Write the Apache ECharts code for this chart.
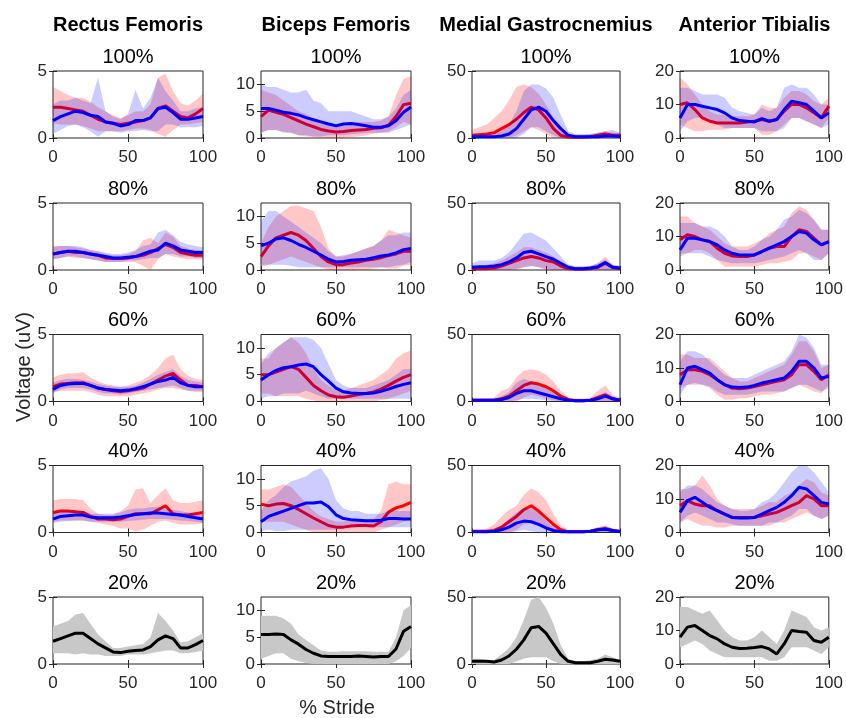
<!DOCTYPE html>
<html>
<head>
<meta charset="utf-8">
<script src="https://cdn.jsdelivr.net/npm/echarts@6/dist/echarts.min.js"></script>
<style>html,body{margin:0;padding:0;background:#fff;}#c{width:846px;height:718px;}</style>
</head>
<body>
<div id="c"></div>
<script>
// ---- axes / labels ----
const xs = [0,5,10,15,20,25,30,35,40,45,50,55,60,65,70,75,80,85,90,95,100];
const colTitles = ['Rectus Femoris','Biceps Femoris','Medial Gastrocnemius','Anterior Tibialis'];
const rowTitles = ['100%','80%','60%','40%','20%'];
const yMaxes = [5,12.5,50,20];
const yTickVals = [[0,5],[0,5,10],[0,50],[0,10,20]];
const xTickVals = [0,50,100];

// ---- 100% ----
const rf100RedM  = [2.3,2.3,2.2,2.1,2.0,1.7,1.4,1.2,1.1,1.0,1.1,1.2,1.3,1.5,2.2,2.4,2.0,1.6,1.5,1.8,2.2];
const rf100RedHi = [3.8,3.5,3.2,3.0,3.0,2.7,2.3,2.0,1.7,1.5,1.7,2.0,2.0,2.5,4.5,4.8,3.5,2.6,2.4,2.8,3.3];
const rf100RedLo = [1.1,1.0,1.0,1.0,0.9,0.7,0.5,0.5,0.5,0.5,0.6,0.7,0.7,0.6,0.3,0.1,0.6,1.0,1.0,1.1,1.2];
const rf100BluM  = [1.3,1.6,1.8,2.0,1.9,1.7,1.6,1.2,1.1,0.9,1.0,1.3,1.3,1.5,2.2,2.3,1.9,1.4,1.4,1.5,1.6];
const rf100BluHi = [2.5,2.8,2.8,3.0,2.8,2.6,4.5,2.0,1.6,1.4,1.8,3.6,2.2,3.0,4.5,3.5,2.8,2.0,2.0,2.2,2.3];
const rf100BluLo = [0.3,0.6,0.9,1.0,0.8,0.5,0.1,0.5,0.5,0.4,0.5,0.5,0.6,0.5,0.5,1.0,1.0,0.8,0.8,0.8,0.9];

const bf100RedM  = [4.0,5.2,4.8,4.4,3.8,3.2,2.6,2.1,1.6,1.3,1.1,1.2,1.4,1.5,1.6,1.8,1.9,2.4,4.0,6.2,6.5];
const bf100RedHi = [9,8.5,8,7,6,5,4.5,3.5,3,2.5,2.3,2.5,2.8,3,3,3,3.2,4,8,11,11.5];
const bf100RedLo = [1,1.5,1.5,1.2,1,0.5,0.3,0.2,0.1,0,0,0,0.2,0.3,0.5,0.8,1,1.2,2,3,2.5];
const bf100BluM  = [5.5,5.5,5.2,4.8,4.6,4.3,3.8,3.4,3.0,2.6,2.3,2.6,2.7,2.5,2.3,2.0,2.0,2.3,3.2,4.8,5.8];
const bf100BluHi = [10,9.5,9.5,9,8.5,8.5,9,7,6.5,5,5,5,5,4.5,4,3.5,3.5,4,5.5,8,9];
const bf100BluLo = [1,1.5,1.5,1,1,0.5,0.5,0.3,0.3,0.5,0.5,0.5,0.7,0.8,1,1,1,1,1.5,2,2.5];

const mg100RedM  = [2,2.5,3,4,7,10,14,19,23,21,15,7,2,0.5,0.5,0.5,1,2,3,2,2];
const mg100RedHi = [6,8,10,15,20,28,38,40,38,33,25,15,5,2,2,2,3,4,5,4,4];
const mg100RedLo = [0,0,0,0,0,0,2,5,8,6,3,0,0,0,0,0,0,0,0,0,0];
const mg100BluM  = [1,1,1,1,1.5,3,7,14,21,23,20,13,7,2,1,1,1,1,1.5,1.5,1];
const mg100BluHi = [3,3,3,3,5,10,20,35,40,40,37,30,17,5,3,3,3,4,5,6,4];
const mg100BluLo = [0,0,0,0,0,0,0,3,8,8,5,2,0,0,0,0,0,0,0,0,0];

const ta100RedM  = [10,10.5,8.5,6,5,4.5,4.5,4.5,4.5,4.8,5,5.5,5,5.5,8,10,10,9,7.5,6,9.5];
const ta100RedHi = [18,16,13,10,8,7,7,6.5,6.5,6.5,7,10,9,9,12,14,14,13,11,10,12];
const ta100RedLo = [4,3,2,2,2.5,2.5,2.5,3,3,3,3,1,1,2,4,6,6,5,4,3,6];
const ta100BluM  = [6,10,10,9.5,9,8.5,7.5,6,5.2,5,4.8,5.8,5,5.5,8.5,11,10.5,10,8,6,7.5];
const ta100BluHi = [15,15,14,13,13,13,12,9,8,7.5,7,9,8,9,15,16,15,15,13,10,10];
const ta100BluLo = [2,5,6,6,5,4,3,3,3,3,3,2,2,2,3,6,6,5,4,3,4];

// ---- 80% ----
const rf80RedM  = [1.2,1.3,1.4,1.3,1.3,1.2,1.1,0.9,0.85,0.85,0.9,1.0,1.1,1.3,1.6,1.9,1.7,1.3,1.2,1.1,1.1];
const rf80RedHi = [1.8,1.8,1.8,1.7,1.6,1.5,1.4,1.2,1.1,1.1,1.2,1.4,2.2,2.4,2.0,2.8,2.5,1.8,1.6,1.5,1.5];
const rf80RedLo = [0.8,0.9,1.0,0.9,0.9,0.8,0.7,0.6,0.6,0.6,0.6,0.6,0.3,0.0,0.8,1.2,1.0,0.9,0.8,0.8,0.8];
const rf80BluM  = [1.2,1.3,1.4,1.4,1.3,1.2,1.1,1.0,0.9,0.9,0.95,1.0,1.2,1.4,1.5,2.0,1.8,1.5,1.4,1.3,1.3];
const rf80BluHi = [1.7,1.8,1.8,1.8,1.7,1.5,1.4,1.3,1.2,1.2,1.3,1.5,1.8,1.9,2.8,3.0,2.6,2.1,1.9,1.8,1.7];
const rf80BluLo = [0.8,0.9,1.0,1.0,0.9,0.8,0.7,0.6,0.6,0.6,0.7,0.7,0.8,0.9,0.9,1.2,1.2,1.0,1.0,0.9,0.9];

const bf80RedM  = [2.5,4.5,6,6.5,7,6.5,5.5,4,2.5,1.5,1.0,1.0,1.3,1.5,1.8,2.0,2.3,2.7,3.0,3.5,3.5];
const bf80RedHi = [5,8,10,11,12,12,11.5,11,8,4,2.5,2.5,3,3.5,4,4.5,5.5,7.5,7,6.5,6];
const bf80RedLo = [0.5,1,1.5,2,2.5,2,1.5,1,0.5,0,0,0,0,0,0,0.3,0.5,0.3,0.3,0.8,1];
const bf80BluM  = [4.5,5.0,5.8,6.0,5.5,4.8,4.2,3.5,2.8,2.0,1.5,1.6,1.8,1.9,2.0,2.3,2.6,2.8,3.2,3.8,4.0];
const bf80BluHi = [9,11,11,10,9,8,7,6,5,3.5,2.5,2.8,3,3.5,4,4.5,5.5,6.5,6.5,7,7];
const bf80BluLo = [1,1,1,1,0.8,0.5,0.5,0.5,0.5,0.5,0.5,0.5,0.5,0.5,0.5,0.5,0.5,0.5,0.8,1,1.5];

const mg80RedM  = [1,1,1,1.5,3,5,7,9,10,9,7,6,3,1,0.5,0.5,1,2,5,2,1];
const mg80RedHi = [3,3,4,5,7,10,13,17,17,15,13,10,6,3,2,2,3,5,10,4,3];
const mg80RedLo = [0,0,0,0,0,0,0,2,3,2,0,0,0,0,0,0,0,0,0,0,0];
const mg80BluM  = [2,2.5,2.5,3,4,6,9,13,14,12,10,8,5,2,1,1,1.5,2.5,5.5,2,1.5];
const mg80BluHi = [5,7,7,7,9,13,20,27,28,25,22,16,10,4,3,3,3,5,8,4,3];
const mg80BluLo = [0,0,0,0,0,0,1,2,3,2,1,0,0,0,0,0,0,0,0,0,0];

const ta80RedM  = [9,10.5,10,9,8.5,6.5,5,4.2,4,4,4.5,5.5,6.5,7,7,10,12,11.5,9.5,7.5,8.5];
const ta80RedHi = [16,16,14,13,12,10,8,7,7,7,8,9,11,12,13,17,19,18,15,12,12];
const ta80RedLo = [5,5,6,6,5,3,1,1,1,1,1,1.5,2,2,2.5,3,5,5,4,3,5];
const ta80BluM  = [6,9.5,9.5,9,8.5,7.5,6,5,4.5,4.5,4.5,5.5,6.5,7.5,8.5,10,11.5,11,9,7.5,8.5];
const ta80BluHi = [14,14,14,13,13,12,10,7,6,6,7,9,10,12,15,16,18,17,15,12,12];
const ta80BluLo = [4,5,5,5,4,3,2.5,2,2,2,2,2.5,3,3.5,4,5,6,5,3,3,5];

// ---- 60% ----
const rf60RedM  = [1.1,1.3,1.35,1.4,1.4,1.2,1.0,0.9,0.8,0.75,0.8,0.9,1.0,1.3,1.6,1.9,2.1,1.6,1.2,1.2,1.1];
const rf60RedHi = [1.8,2.0,2.1,2.1,2.2,1.8,1.5,1.3,1.2,1.1,1.2,1.4,1.6,2.0,2.5,3.2,3.5,2.4,1.9,1.7,1.6];
const rf60RedLo = [0.7,0.8,0.8,0.8,0.8,0.7,0.5,0.4,0.4,0.4,0.4,0.5,0.6,0.7,0.9,1.0,1.0,0.9,0.8,0.7,0.7];
const rf60BluM  = [0.9,1.2,1.3,1.35,1.35,1.2,1.0,0.9,0.85,0.8,0.85,0.95,1.1,1.3,1.5,1.6,1.8,1.4,1.2,1.1,1.1];
const rf60BluHi = [1.4,1.6,1.7,1.7,1.6,1.5,1.3,1.2,1.1,1.1,1.1,1.2,1.4,1.7,2.0,2.2,2.4,1.9,1.6,1.5,1.4];
const rf60BluLo = [0.6,0.9,1.0,1.0,1.0,0.9,0.7,0.6,0.6,0.5,0.6,0.7,0.8,0.9,1.0,1.1,1.2,1.0,0.8,0.8,0.8];

const bf60RedM  = [5,5,5.5,6,6.5,6,4.5,3,2,1.2,0.9,0.8,1.0,1.3,1.5,1.8,2.3,3,3.8,4.5,5];
const bf60RedHi = [8,8,10,11,12,11,9,6,4,3,2,2,2.5,3,3.5,4,5,6,8,9,9.5];
const bf60RedLo = [1.5,1.5,1,1,1,1,0.5,0.2,0,0,0,0,0,0,0,0,0.3,0.5,1,1.5,2];
const bf60BluM  = [4,5,5.8,6.3,6.5,6.8,7,6.5,5,3.8,2.5,1.8,1.6,1.5,1.5,1.6,1.9,2.3,2.8,3.2,3.5];
const bf60BluHi = [7,9,10,11,12,12,12,11.5,10,7,4,3,2.5,2.5,2.5,3,3.5,4,5,6,6];
const bf60BluLo = [0.5,1,1,1.5,1.5,1.5,2,1.5,1,0.5,0.5,0.5,0.5,0.5,0.5,0.5,0.5,0.5,0.5,0.5,0.5];

const mg60RedM  = [1,1,1,1,2,4,8,12,14,13,11,8,4,1.5,0.5,0.5,1,3,5,2,1];
const mg60RedHi = [2,2,2,3,8,10,18,23,24,23,20,15,8,3,2,2,3,8,12,5,3];
const mg60RedLo = [0,0,0,0,0,0,0,3,5,4,2,1,0,0,0,0,0,0,0,0,0];
const mg60BluM  = [1,1,1,1,1.5,3,6,8,8,6.5,5,3.5,2,1,0.5,0.5,1,2,4,2,1];
const mg60BluHi = [2,2,2,2,4,7,14,17,15,12,10,7,4,2,2,2,2,4,7,4,2];
const mg60BluLo = [0,0,0,0,0,0,1,2,2,1.5,1,0,0,0,0,0,0,0,0,0,0];

const ta60RedM  = [8,9.5,9.5,9,8,6.5,5,4,3.8,4,4.5,5,5.5,6,6.5,8,11,11,9,6.5,8];
const ta60RedHi = [14,14,13,13,13,11,9,7,6,6,7,8,9,10,11,14,18,18,15,10,11];
const ta60RedLo = [4,5,5,5,4,2,0.5,0.5,1,1,1.5,2,2,2.5,3,4,5,4,3,2.5,5];
const ta60BluM  = [5,10,10.5,9.5,8.5,6.5,5,4.3,4.2,4.3,4.8,5.5,6,6.5,7,9,12,12,10,7,7.5];
const ta60BluHi = [12,15,15,14,12,10,8,7,7,7,8,9,10,11,12,15,20,19,16,11,11];
const ta60BluLo = [2,5,5.5,5,4.5,3,2,2,2,2,2.5,3,3,3,3,4,5,5,4,3,4];

// ---- 40% ----
const rf40RedM  = [1.5,1.6,1.6,1.55,1.5,1.2,1.0,1.0,0.95,1.0,1.2,1.4,1.4,1.4,1.7,2.0,1.4,1.3,1.3,1.4,1.5];
const rf40RedHi = [2.4,2.5,2.5,2.5,2.4,1.8,1.4,1.3,1.3,1.6,2.0,3.2,3.3,2.2,2.8,3.3,2.4,2.2,2.2,2.3,2.4];
const rf40RedLo = [0.8,0.9,0.9,0.9,0.9,0.8,0.7,0.6,0.5,0.3,0.3,0.1,0.2,0.5,0.8,0.9,0.7,0.6,0.6,0.6,0.7];
const rf40BluM  = [1.0,1.2,1.25,1.3,1.3,1.15,1.1,1.1,1.1,1.15,1.25,1.35,1.4,1.45,1.45,1.4,1.35,1.3,1.2,1.1,1.0];
const rf40BluHi = [1.5,1.6,1.6,1.6,1.6,1.4,1.4,1.4,1.4,1.5,1.7,1.8,1.8,1.9,1.9,1.8,1.7,1.6,1.5,1.4,1.3];
const rf40BluLo = [0.7,0.8,0.85,0.9,0.9,0.8,0.8,0.8,0.8,0.8,0.85,0.9,0.95,1.0,1.0,1.0,0.95,0.9,0.85,0.8,0.7];

const bf40RedM  = [5.3,5.0,5.3,5.4,5.0,4.3,3.5,2.7,2.0,1.3,1.0,1.0,1.2,1.3,1.3,1.2,2.0,3.8,4.6,5.0,5.6];
const bf40RedHi = [8,8,8.5,9,8.5,7,5.5,4,3,2.5,2,2,2.5,2.5,2.5,2.5,4,9,9.5,9,9];
const bf40RedLo = [2,2,2,2,1.5,1,0.5,0,0,0,0,0,0,0,0,0,0.5,1,1.5,2,2.5];
const bf40BluM  = [2,3,3.5,4,4.5,5,5.5,5.5,5.7,4.8,3.3,2.6,2.4,2.3,2.2,2.2,2.3,2.6,2.6,2.5,2.5];
const bf40BluHi = [4,6,7,8.5,9.5,10,10.5,11.5,12,10,6,4.5,4,4,3.5,3.5,3.5,4,4,4,4];
const bf40BluLo = [0.3,0.5,0.3,0.3,0.5,0.5,0.5,0.5,0.5,0.5,0.5,0.8,1,1,1,1,1,1,1,1,1];

const mg40RedM  = [1,1,1,1.5,4,8,12,17,20,16,11,6,2,0.5,0.5,0.5,1,2,3,1.5,1];
const mg40RedHi = [2,2,3,6,12,17,20,28,33,30,24,14,5,2,2,2,2,4,5,3,2];
const mg40RedLo = [0,0,0,0,0,0,2,6,8,5,2,0,0,0,0,0,0,0,0,0,0];
const mg40BluM  = [0.5,0.5,0.5,1,2,4,7,8.5,8,6,3.5,1.5,0.5,0.5,0.5,0.5,1,2,2.5,1.5,0.5];
const mg40BluHi = [1,1,1,2,5,10,15,18,18,15,9,4,1.5,1,1,1,2,4,5,3,1];
const mg40BluLo = [0,0,0,0,0,0,1,2,1,0,0,0,0,0,0,0,0,0,0,0,0];

const ta40RedM  = [8,9.5,8.5,8,8,6.5,5.5,4.5,4.5,4.5,4.5,5,5.5,6,7,8,9,11,10,8,8];
const ta40RedHi = [13,13,14,17,14,10,8,7,7,7,7,8,9,9,11,12,14,16,15,12,11];
const ta40RedLo = [3,4,3,2,2,1.5,1.5,2,2,2,2,2,2,3,3,4,5,6,5,4,5];
const ta40BluM  = [6,9.5,10.5,9,7.5,6.5,5.5,4.5,4.3,4.3,4.5,5.5,6.5,7.5,9,11,13.5,13,11,9,8.5];
const ta40BluHi = [12,14,14,13,11,9,8,7,6.5,6.5,7,9,10,12,15,18,20,20,18,15,12];
const ta40BluLo = [3,5,6,5,4,3,3,2.5,2,2,2,2,3,3,4,5,7,7,5,4,5];

// ---- 20% ----
const rf20M  = [1.7,1.9,2.1,2.3,2.3,1.9,1.5,1.2,0.9,0.85,0.95,1.0,1.05,1.3,1.8,2.1,1.9,1.2,1.2,1.45,1.75];
const rf20Hi = [2.8,3.0,3.2,3.7,3.8,3.0,2.2,1.7,1.2,1.2,1.3,1.4,1.5,2.0,3.8,3.2,2.5,1.6,1.7,2.0,2.3];
const rf20Lo = [0.8,0.8,0.8,0.7,0.8,0.7,0.7,0.6,0.6,0.6,0.7,0.7,0.7,0.8,0.9,1.0,1.0,0.8,0.8,0.9,1.0];

const bf20M  = [5.5,5.5,5.6,5.5,4.5,3.7,2.7,2.0,1.5,1.4,1.4,1.4,1.4,1.5,1.4,1.3,1.4,1.4,2.8,6.1,7.0];
const bf20Hi = [9,9,9,8.5,7.5,5.5,4.5,3.5,2.5,2.3,2.3,2.4,2.4,2.4,2.4,2.3,2.3,2.3,5,10,11];
const bf20Lo = [1,1.5,2,2,1,0.5,0.2,0,0,0,0,0,0,0,0,0,0,0,0.5,1.5,3];

const mg20M  = [2,2,2,1.5,3,6,11,18,27,28,23,15,7,2,1,1,1,2,3.5,3,2];
const mg20Hi = [4,4,3,3,7,12,20,33,48,50,42,30,14,4,2,2,3,4,7,5,3];
const mg20Lo = [0,0,0,0,0,0,2,4,5,5,5,2,0,0,0,0,0,0,0,0,0];

const ta20M  = [8,11,11.5,10,8.5,7.5,6,5,4.6,4.7,4.9,5.2,4.5,3,6,10,9.7,9.5,7,6.5,8];
const ta20Hi = [17,17,16,15,16,13,10,8,7,7,8,10,8,6,10,16,15,14,11,10,11];
const ta20Lo = [5,6,7,6,4,3,2,2,2,2,2,2,1,1,2,5,5,5,4,3,5];

// ---- panel table built from the arrays ----
const P = (m,lo,hi)=>({m,lo,hi});
const panels = [
  [ {red:P(rf100RedM,rf100RedLo,rf100RedHi), blue:P(rf100BluM,rf100BluLo,rf100BluHi)},
    {red:P(bf100RedM,bf100RedLo,bf100RedHi), blue:P(bf100BluM,bf100BluLo,bf100BluHi)},
    {red:P(mg100RedM,mg100RedLo,mg100RedHi), blue:P(mg100BluM,mg100BluLo,mg100BluHi)},
    {red:P(ta100RedM,ta100RedLo,ta100RedHi), blue:P(ta100BluM,ta100BluLo,ta100BluHi)} ],
  [ {red:P(rf80RedM,rf80RedLo,rf80RedHi), blue:P(rf80BluM,rf80BluLo,rf80BluHi)},
    {red:P(bf80RedM,bf80RedLo,bf80RedHi), blue:P(bf80BluM,bf80BluLo,bf80BluHi)},
    {red:P(mg80RedM,mg80RedLo,mg80RedHi), blue:P(mg80BluM,mg80BluLo,mg80BluHi)},
    {red:P(ta80RedM,ta80RedLo,ta80RedHi), blue:P(ta80BluM,ta80BluLo,ta80BluHi)} ],
  [ {red:P(rf60RedM,rf60RedLo,rf60RedHi), blue:P(rf60BluM,rf60BluLo,rf60BluHi)},
    {red:P(bf60RedM,bf60RedLo,bf60RedHi), blue:P(bf60BluM,bf60BluLo,bf60BluHi)},
    {red:P(mg60RedM,mg60RedLo,mg60RedHi), blue:P(mg60BluM,mg60BluLo,mg60BluHi)},
    {red:P(ta60RedM,ta60RedLo,ta60RedHi), blue:P(ta60BluM,ta60BluLo,ta60BluHi)} ],
  [ {red:P(rf40RedM,rf40RedLo,rf40RedHi), blue:P(rf40BluM,rf40BluLo,rf40BluHi)},
    {red:P(bf40RedM,bf40RedLo,bf40RedHi), blue:P(bf40BluM,bf40BluLo,bf40BluHi)},
    {red:P(mg40RedM,mg40RedLo,mg40RedHi), blue:P(mg40BluM,mg40BluLo,mg40BluHi)},
    {red:P(ta40RedM,ta40RedLo,ta40RedHi), blue:P(ta40BluM,ta40BluLo,ta40BluHi)} ],
  [ {black:P(rf20M,rf20Lo,rf20Hi)}, {black:P(bf20M,bf20Lo,bf20Hi)},
    {black:P(mg20M,mg20Lo,mg20Hi)}, {black:P(ta20M,ta20Lo,ta20Hi)} ]
];

// ---- layout ----
const FONT = '"Liberation Sans", Arial, Helvetica, sans-serif';
const TXT = '#262626';
const colLeft = [53, 261, 472, 680];
const colWidth = [150, 150, 148, 149];
const rowTop = [71, 203, 334.5, 465.5, 597];
const plotH = 67;

const grids = [], xAxes = [], yAxes = [], series = [];
const topX = [], rightY = [];
let g = 0;

function pairs(arr){ return xs.map((x,i)=>[x, arr[i]]); }

// band = polygon between lo and hi, placed through the axis scales (api.coord)
function addBand(gi, d, color, z){
  const data = xs.map((x,i)=>[x, d.lo[i], d.hi[i]]);
  series.push({type:'custom', xAxisIndex:gi, yAxisIndex:gi, data:data, silent:true, clip:true, z:z,
    encode:{x:0, y:[1,2]},
    renderItem:function(params, api){
      if (params.dataIndex !== 0) return;
      const pts = [];
      for (let i = 0; i < data.length; i++) pts.push(api.coord([data[i][0], data[i][2]]));
      for (let i = data.length-1; i >= 0; i--) pts.push(api.coord([data[i][0], data[i][1]]));
      return {type:'polygon', shape:{points:pts}, style:{fill:color, stroke:null}};
    }});
}
function addLine(gi, d, color, z){
  series.push({type:'line', xAxisIndex:gi, yAxisIndex:gi, data:pairs(d.m),
    symbol:'none', lineStyle:{width:3, color:color}, silent:true, z:z});
}

for (let r = 0; r < 5; r++) {
  for (let c = 0; c < 4; c++) {
    grids.push({left:colLeft[c], top:rowTop[r], width:colWidth[c], height:plotH,
      show:true, borderColor:TXT, borderWidth:1, backgroundColor:'transparent'});
    xAxes.push({type:'value', gridIndex:g, min:0, max:100, interval:50, position:'bottom',
      axisLine:{show:false}, splitLine:{show:false},
      axisTick:{inside:true, length:4, lineStyle:{color:TXT}},
      axisLabel:{fontSize:17, color:TXT, fontFamily:FONT, margin:11}});
    yAxes.push({type:'value', gridIndex:g, min:0, max:yMaxes[c], position:'left',
      axisLine:{show:false}, splitLine:{show:false},
      axisTick:{inside:true, length:4, lineStyle:{color:TXT}, customValues:yTickVals[c]},
      axisLabel:{fontSize:17, color:TXT, fontFamily:FONT, margin:6, customValues:yTickVals[c]}});
    topX.push({type:'value', gridIndex:g, min:0, max:100, interval:50, position:'top',
      axisLine:{show:false}, splitLine:{show:false}, axisLabel:{show:false},
      axisTick:{inside:true, length:4, lineStyle:{color:TXT}}});
    rightY.push({type:'value', gridIndex:g, min:0, max:yMaxes[c], position:'right',
      axisLine:{show:false}, splitLine:{show:false}, axisLabel:{show:false},
      axisTick:{inside:true, length:4, lineStyle:{color:TXT}, customValues:yTickVals[c]}});
    const p = panels[r][c];
    if (p.black) {
      addBand(g, p.black, '#c8c8c8', 2);
      addLine(g, p.black, '#000000', 3);
    } else {
      addBand(g, p.red, 'rgba(255,0,0,0.22)', 2);
      addLine(g, p.red, '#ff0000', 3);
      addBand(g, p.blue, 'rgba(0,0,255,0.2)', 4);
      addLine(g, p.blue, '#0000ff', 5);
    }
    g++;
  }
}

const graphics = [];
colTitles.forEach((t,c)=>{
  graphics.push({type:'text', x:colLeft[c]+colWidth[c]/2, y:25,
    style:{text:t, font:'bold 20px '+FONT, fill:'#000', textAlign:'center', textVerticalAlign:'middle'}});
});
for (let r = 0; r < 5; r++) for (let c = 0; c < 4; c++) {
  graphics.push({type:'text', x:colLeft[c]+colWidth[c]/2, y:rowTop[r]-14,
    style:{text:rowTitles[r], font:'20px '+FONT, fill:'#000', textAlign:'center', textVerticalAlign:'middle'}});
}
graphics.push({type:'text', x:337, y:708,
  style:{text:'% Stride', font:'20px '+FONT, fill:TXT, textAlign:'center', textVerticalAlign:'middle'}});
graphics.push({type:'text', x:24, y:367, rotation:Math.PI/2,
  style:{text:'Voltage (uV)', font:'20px '+FONT, fill:TXT, textAlign:'center', textVerticalAlign:'middle'}});

const chart = echarts.init(document.getElementById('c'), null, {renderer:'canvas'});
chart.setOption({
  animation:false,
  backgroundColor:'#ffffff',
  grid:grids,
  xAxis:xAxes.concat(topX),
  yAxis:yAxes.concat(rightY),
  series:series,
  graphic:graphics
});
</script>
</body>
</html>
